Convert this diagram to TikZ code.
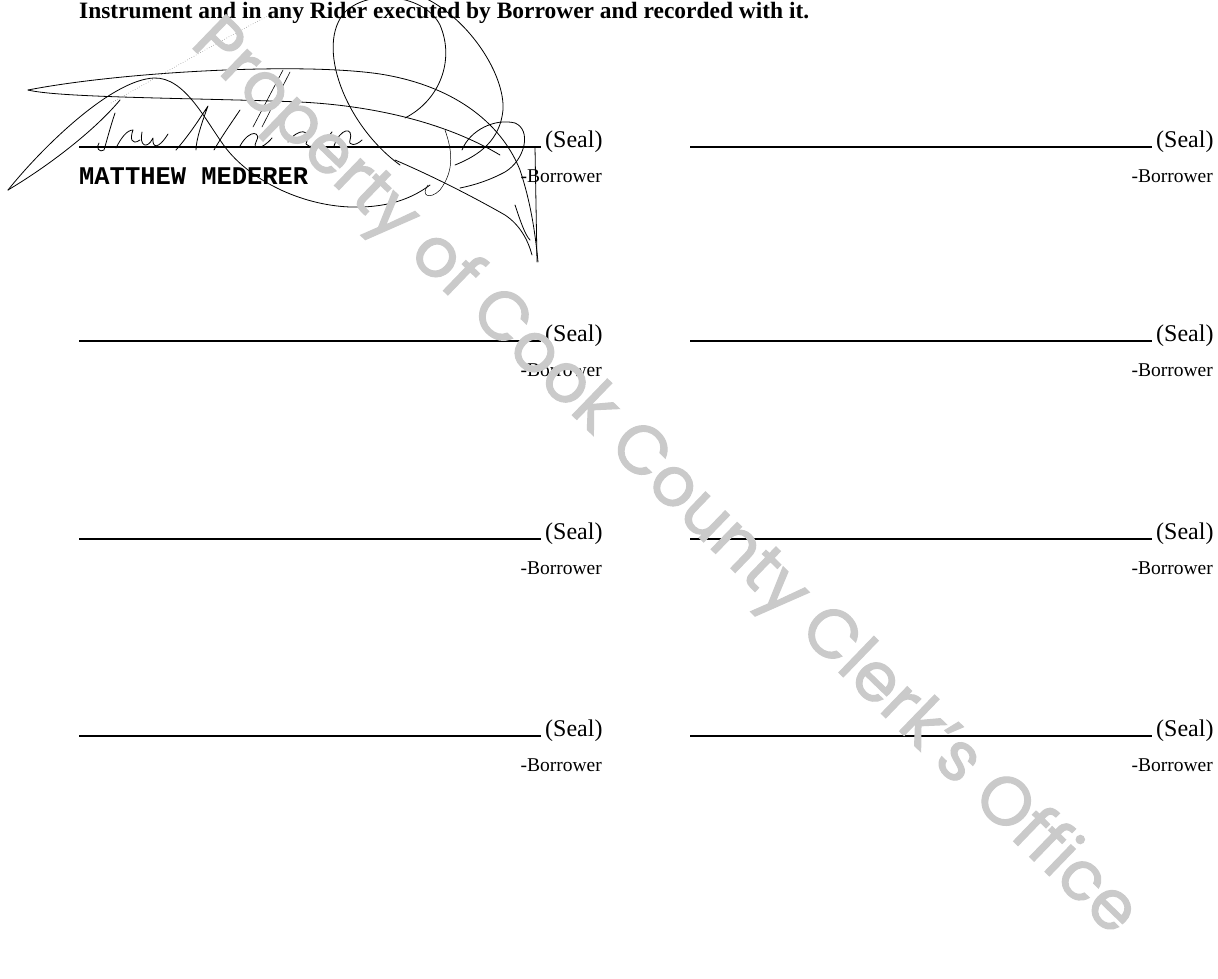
\documentclass[tikz,border=0pt]{standalone}
\usepackage{fontspec}
\usepackage{graphicx}
\setmainfont{Liberation Serif}
\newfontfamily\monofnt{Liberation Mono}
\newfontfamily\wmfnt{Poppins}[FakeBold=1.6]
\definecolor{wmgray}{RGB}{202,202,202}
\begin{document}
\begin{tikzpicture}[x=1pt,y=-1pt,
  sealtxt/.style={font=\fontsize{24}{24}\selectfont, anchor=base west, inner sep=0pt},
  borrtxt/.style={font=\fontsize{19.5}{20}\selectfont, anchor=base east, inner sep=0pt},
  sigline/.style={line width=1.3pt, black},
  sig/.style={line width=0.8pt, black, line cap=round, line join=round},
  sigthin/.style={line width=0.5pt, black, line cap=round, line join=round},
  sigfaint/.style={line width=0.5pt, black!55, dotted}]
\useasboundingbox (0,0) rectangle (1218,978);
\fill[white] (0,0) rectangle (1218,978);

% intro line
\node[anchor=base west, inner sep=0pt] (intro) at (79,18)
  {\resizebox{730pt}{!}{\bfseries Instrument and in any Rider executed by Borrower and recorded with it.}};

% signature blocks
\foreach \r/\yy in {1/147, 2/341, 3/539, 4/736}{
  \foreach \c/\dx in {L/0, R/611}{
    \coordinate (ls\c\r) at (79+\dx,\yy);
    \coordinate (le\c\r) at (541+\dx,\yy);
    \draw[sigline] (ls\c\r) -- (le\c\r);
    \node[sealtxt] (seal\c\r) at (545+\dx,\yy) {(Seal)};
    \node[borrtxt] (borr\c\r) at (602+\dx,\yy+35) {-Borrower};
  }
}

% printed name
\node[anchor=base west, inner sep=0pt] (name) at (79,184)
  {\resizebox{229pt}{!}{\monofnt\bfseries MATTHEW MEDERER}};

% handwritten signature
\draw[sig] (8,190) .. controls (40,150) and (110,80) .. (154,78) .. controls (185,77) and (205,120) .. (225,147) .. controls (250,180) and (300,205) .. (350,207) .. controls (385,208) and (410,200) .. (430,185);
\draw[sig] (8,190) .. controls (50,165) and (95,130) .. (120,100);
\draw[sig] (28,90) .. controls (120,72) and (300,62) .. (380,74) .. controls (450,85) and (500,120) .. (520,170) .. controls (530,200) and (535,230) .. (538,262);
\draw[sig] (28,90) .. controls (60,98) and (200,98) .. (300,102) .. controls (380,106) and (450,125) .. (500,155);
\draw[sig] (400,165) .. controls (345,125) and (315,45) .. (345,12) .. controls (370,-12) and (425,-5) .. (440,25) .. controls (455,60) and (440,100) .. (405,118);
\draw[sig] (425,-2) .. controls (470,20) and (505,75) .. (503,110) .. controls (500,140) and (480,155) .. (455,165);
\draw[sig] (462,150) .. controls (470,130) and (495,118) .. (515,123) .. controls (532,130) and (525,160) .. (505,172) .. controls (490,180) and (475,185) .. (460,188);
\draw[sig] (395,160) .. controls (430,175) and (470,195) .. (505,215) .. controls (520,225) and (528,240) .. (532,255);
\draw[sig] (515,205) .. controls (520,220) and (525,235) .. (530,240);
\draw[sig] (535,147) -- (537,262);
\draw[sigthin] (445,130) .. controls (452,150) and (455,170) .. (440,190) .. controls (430,200) and (420,196) .. (428,185);
% cursive letters on the line
\draw[sig] (115,113) .. controls (110,128) and (107,140) .. (104,150) .. controls (100,153) and (95,148) .. (99,143);
\draw[sig] (116,148) .. controls (121,138) and (127,130) .. (133,130) .. controls (130,138) and (131,146) .. (140,140);
\draw[sig] (142,132) .. controls (139,146) and (147,150) .. (153,138) .. controls (152,148) and (158,150) .. (168,134);
\draw[sig] (176,150) .. controls (190,134) and (200,118) .. (208,106) .. controls (202,122) and (196,140) .. (196,150);
\draw[sig] (214,150) .. controls (222,136) and (232,122) .. (240,110);
\draw[sig] (240,146) .. controls (250,128) and (262,132) .. (256,142) .. controls (252,150) and (262,150) .. (272,138);
\draw[sig] (288,142) .. controls (298,128) and (312,128) .. (306,144) .. controls (314,152) and (326,140) .. (332,132);
\draw[sig] (334,146) .. controls (340,128) and (354,126) .. (350,140) .. controls (348,146) and (356,146) .. (362,140);
\draw[sig, line width=0.6pt] (253,127) -- (283,70);
\draw[sig, line width=0.6pt] (262,127) -- (290,72);
\draw[sigfaint] (111,103) .. controls (170,70) and (230,35) .. (285,7);

% watermark
\node[anchor=base west, inner sep=0pt, rotate=-44, text=wmgray] (wm) at (189,45)
  {\resizebox{1284pt}{!}{\wmfnt Property of Cook County Clerk’s Office}};
\end{tikzpicture}
\end{document}
